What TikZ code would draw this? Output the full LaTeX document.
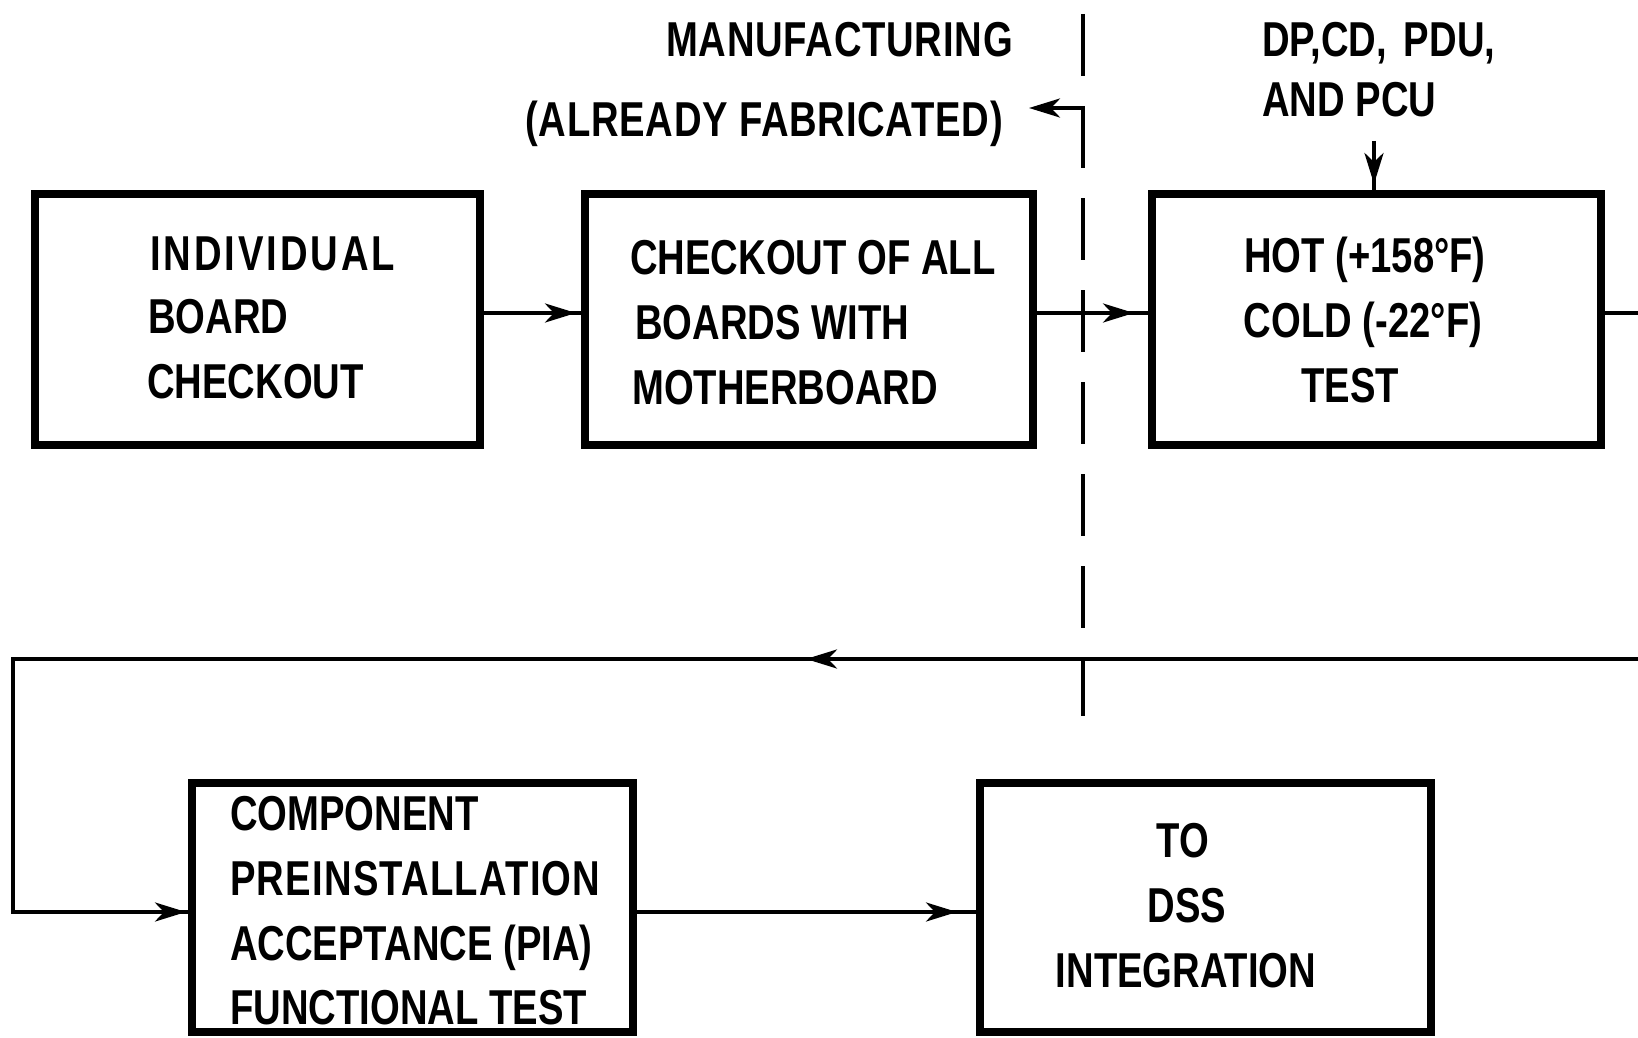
\documentclass[tikz,border=0pt]{standalone}
\usepackage{fontspec}
\newfontfamily\diagfont{Liberation Sans}[FakeStretch=0.78]
\usetikzlibrary{arrows.meta,decorations.markings,calc}
\tikzset{
  >={Stealth[length=31pt,width=19pt,inset=9pt]},
  box/.style={draw, line width=7.5pt, rectangle, inner sep=0pt, outer sep=0pt},
  lbl/.style={font=\diagfont\bfseries\fontsize{49}{58}\selectfont, inner sep=0pt, anchor=base west},
  lblc/.style={lbl, anchor=base},
  lble/.style={lbl, anchor=base east},
  spaced/.style={font=\diagfont\bfseries\fontsize{49}{58}\selectfont\addfontfeature{LetterSpace=#1}},
  conn/.style={line width=4pt},
  arrowat/.style={postaction={decorate}, decoration={markings, mark=at position #1 with {\arrow{>}}}},
}
\begin{document}
\begin{tikzpicture}[x=1pt,y=-1pt]
\useasboundingbox (0,0) rectangle (1638,1038);
% boxes
\node[box, minimum width=445pt, minimum height=251pt] (b1) at (257.5,319.5) {};
\node[box, minimum width=448pt, minimum height=251pt] (b2) at (809,319.5) {};
\node[box, minimum width=449pt, minimum height=251pt] (b3) at (1376.5,319.5) {};
\node[box, minimum width=441pt, minimum height=249pt] (b4) at (412.5,907.5) {};
\node[box, minimum width=451pt, minimum height=249pt] (b5) at (1205.5,907.5) {};
% box texts
\node[lbl, spaced=6] (t1a) at (150,270) {INDIVIDUAL};
\node[lbl] (t1b) at (148,333) {BOARD};
\node[lbl] (t1c) at (147,398) {CHECKOUT};
\node[lbl] (t2a) at (630,274) {CHECKOUT OF ALL};
\node[lbl] (t2b) at (635,339) {BOARDS WITH};
\node[lbl] (t2c) at (632,404) {MOTHERBOARD};
\node[lblc] (t3a) at (1365,272) {HOT (+158°F)};
\node[lblc] (t3b) at (1363,337) {COLD (-22°F)};
\node[lblc] (t3c) at (1350,402) {TEST};
\node[lbl] (t4a) at (230,830) {COMPONENT};
\node[lbl, spaced=2.5] (t4b) at (230,895) {PREINSTALLATION};
\node[lbl] (t4c) at (230,960) {ACCEPTANCE (PIA)};
\node[lbl] (t4d) at (230,1024) {FUNCTIONAL TEST};
\node[lblc] (t5a) at (1183,857) {TO};
\node[lblc] (t5b) at (1187,922) {DSS};
\node[lblc] (t5c) at (1186,987) {INTEGRATION};
% top labels
\node[lble, spaced=1.5] (m1) at (1013,57) {MANUFACTURING};
\node[lble, spaced=1.5] (m2) at (1003,136) {(ALREADY FABRICATED)};
\node[lbl] (d1) at (1262,57) {DP,CD,\hspace{0.35em}PDU,};
\node[lbl] (d2) at (1262,117) {AND PCU};
% coordinates
\coordinate (r1) at (0,313);
\coordinate (r4) at (0,912);
\coordinate (dtop) at (1083,14);
\coordinate (dbot) at (1083,716);
\coordinate (hk0) at (1083,108);
\coordinate (hk1) at (1029,108);
\coordinate (dp) at (1374,141);
\coordinate (rt) at (1660,313);
\coordinate (rb) at (1660,659);
\coordinate (lb) at (13,659);
% dashed boundary
\draw[line width=4.5pt, dash pattern=on 62pt off 30pt] (dtop) -- (dbot);
\draw[conn, ->] (hk0) -- (hk1);
% connectors
\draw[conn, arrowat=-9pt] (b1.east |- r1) -- (b2.west |- r1);
\draw[conn, arrowat=-18pt] (b2.east |- r1) -- (b3.west |- r1);
\draw[conn, arrowat=-10pt] (dp) -- (dp |- b3.north);
\draw[conn, postaction={decorate}, decoration={markings,
    mark=at position 1259pt with {\arrow{>}},
    mark=at position -6pt with {\arrow{>}}}]
  (b3.east |- r1) -- (rt) -- (rb) -- (lb) -- (lb |- r4) -- (b4.west |- r4);
\draw[conn, arrowat=-23pt] (b4.east |- r4) -- (b5.west |- r4);
\end{tikzpicture}
\end{document}
